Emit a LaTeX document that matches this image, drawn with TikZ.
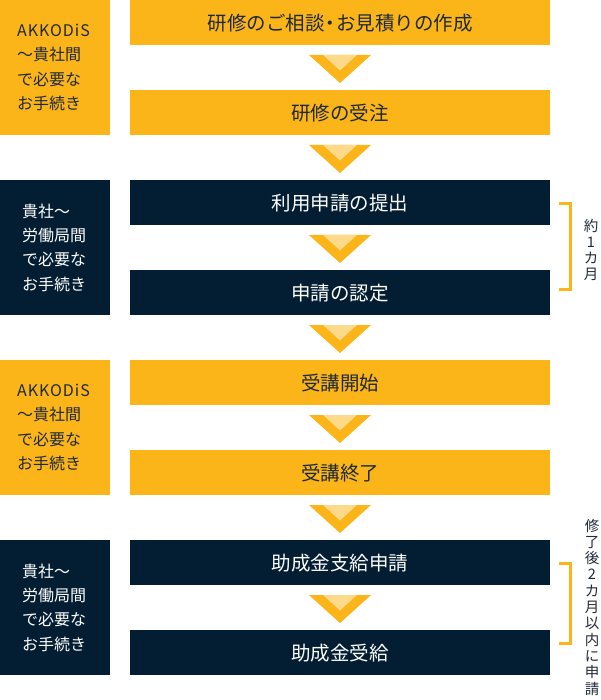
\documentclass[tikz,border=0pt]{standalone}
\usepackage{fontspec}
\setmainfont{Noto Sans CJK JP}
\setsansfont{Noto Sans CJK JP}
\definecolor{akorange}{HTML}{FBB519}
\definecolor{aklight}{HTML}{FDD98A}
\definecolor{aknavy}{HTML}{031E32}
\definecolor{aktext}{HTML}{1E2A38}
\begin{document}
\begin{tikzpicture}[x=1pt,y=-1pt,
  mainbox/.style={minimum width=420pt,minimum height=45pt,inner sep=0pt,anchor=north west,font=\fontsize{19.5}{21}\selectfont},
  obox/.style={mainbox,fill=akorange,text=aktext},
  nbox/.style={mainbox,fill=aknavy,text=white},
  sidebox/.style={minimum width=110pt,minimum height=135pt,inner sep=0pt,anchor=north west},
  sidetext/.style={anchor=west,align=left,inner sep=0pt,font=\fontsize{16}{24.3}\selectfont},
  vtext/.style={align=center,inner sep=0pt,text=aktext,font=\fontsize{14.5}{16.3}\selectfont},
  brk/.style={draw=akorange,line width=3pt}]
\useasboundingbox (0,0) rectangle (600,700);
% side boxes
\node[sidebox,fill=akorange] (s1) at (0,0) {};
\node[sidebox,fill=aknavy] (s2) at (0,180) {};
\node[sidebox,fill=akorange] (s3) at (0,360) {};
\node[sidebox,fill=aknavy] (s4) at (0,540) {};
\node[sidetext,text=aktext] (t1) at (17,67.5) {\addfontfeatures{LetterSpace=6}AKKODiS\\～貴社間\\で必要な\\お手続き};
\node[sidetext,text=white] (t2) at (22,247.5) {貴社～\\労働局間\\で必要な\\お手続き};
\node[sidetext,text=aktext] (t3) at (17,427.5) {\addfontfeatures{LetterSpace=6}AKKODiS\\～貴社間\\で必要な\\お手続き};
\node[sidetext,text=white] (t4) at (22,607.5) {貴社～\\労働局間\\で必要な\\お手続き};
% main boxes
\node[obox] (b1) at (130,0) {研修のご相談\kern-0.2em・\kern-0.2emお見積りの作成};
\node[obox] (b2) at (130,90) {研修の受注};
\node[nbox] (b3) at (130,180) {利用申請の提出};
\node[nbox] (b4) at (130,270) {申請の認定};
\node[obox] (b5) at (130,360) {受講開始};
\node[obox] (b6) at (130,450) {受講終了};
\node[nbox] (b7) at (130,540) {助成金支給申請};
\node[nbox] (b8) at (130,630) {助成金受給};
% arrows
\foreach \y in {0,90,180,270,360,450,540}{
  \fill[akorange] (309,\y+55) -- (371,\y+55) -- (340,\y+83) -- cycle;
  \fill[aklight] (323,\y+55) -- (357,\y+55) -- (340,\y+70.5) -- cycle;
}
% brackets
\draw[brk] (559,203.5) -- (570.5,203.5) -- (570.5,289.5) -- (559,289.5);
\draw[brk] (559,563.5) -- (570.5,563.5) -- (570.5,643.5) -- (559,643.5);
\node[vtext] (v1) at (591,250) {約\\1\\カ\\月};
\node[vtext] (v2) at (592,607) {修\\了\\後\\2\\カ\\月\\以\\内\\に\\申\\請};
\end{tikzpicture}
\end{document}
